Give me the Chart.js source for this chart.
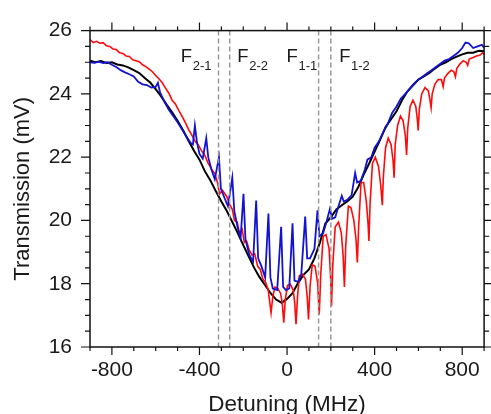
<!DOCTYPE html>
<html>
<head>
<meta charset="utf-8">
<script src="https://cdn.jsdelivr.net/npm/chart.js@4.4.0/dist/chart.umd.min.js"></script>
<style>
  html, body { margin: 0; padding: 0; background: #fff; }
  #wrap { width: 491px; height: 414px; }
</style>
</head>
<body>
<div id="wrap"><canvas id="chart"></canvas></div>
<script>
// Axis ticks
const xTickValues = [-800, -400, 0, 400, 800];
const yTickValues = [16, 18, 20, 22, 24, 26];

// Hyperfine transition markers (MHz) and their labels
const lineMarkers = [-313, -262, 144, 200];
const markerNames = ['F', 'F', 'F', 'F'];
const markerSubs = ['2-1', '2-2', '1-1', '1-2'];
const markerLabelX = [-485, -227, -2, 238];
const markerLabelY = 25.0;

// Black trace (no pump)
const blackX = [-900, -875, -850, -825, -800, -775, -750, -725, -700, -675, -650, -625, -600, -575, -550, -525, -500, -475, -450, -425, -400, -375, -350, -325, -300, -275, -250, -225, -200, -175, -150, -125, -100, -75, -50, -25, 0, 25, 50, 75, 100, 125, 150, 175, 200, 225, 250, 275, 300, 325, 350, 375, 400, 425, 450, 475, 500, 525, 550, 575, 600, 625, 650, 675, 700, 725, 750, 775, 800, 825, 850, 875, 900];
const blackY = [25.05, 25.0, 25.04, 24.98, 25.0, 24.93, 24.9, 24.84, 24.75, 24.66, 24.5, 24.36, 24.15, 23.92, 23.66, 23.42, 23.15, 22.85, 22.52, 22.2, 21.92, 21.55, 21.26, 20.92, 20.6, 20.3, 19.95, 19.6, 19.22, 18.86, 18.5, 18.2, 17.95, 17.7, 17.5, 17.4, 17.52, 17.7, 18.02, 18.28, 18.45, 18.8, 19.3, 19.9, 20.1, 20.35, 20.48, 20.6, 20.75, 21.05, 21.45, 21.8, 22.18, 22.55, 22.95, 23.2, 23.45, 23.8, 24.08, 24.28, 24.45, 24.55, 24.66, 24.8, 24.92, 25.0, 25.1, 25.18, 25.25, 25.3, 25.3, 25.36, 25.35];

// Blue trace (peaks)
const blueX = [-900, -880, -860, -840, -820, -800, -780, -760, -740, -720, -700, -680, -660, -640, -620, -600, -590, -580, -560, -540, -520, -500, -480, -460, -440, -430, -421, -412, -400, -385, -369, -360, -345, -330, -311, -302, -285, -270, -250, -241, -225, -212, -199, -190, -172, -155, -141, -132, -118, -100, -85, -76, -65, -45, -27, -18, -5, 10, 25, 34, 50, 65, 83, 92, 105, 125, 139, 148, 165, 180, 196, 205, 220, 235, 250, 259, 275, 295, 311, 320, 337, 355, 367, 385, 400, 420, 440, 460, 480, 500, 520, 540, 560, 580, 600, 620, 640, 660, 680, 700, 720, 740, 760, 780, 800, 815, 830, 850, 870, 890, 900];
const blueY = [25.0, 24.98, 25.02, 24.97, 25.0, 24.92, 24.85, 24.75, 24.68, 24.62, 24.55, 24.38, 24.3, 24.28, 24.2, 24.22, 24.35, 24.05, 23.75, 23.5, 23.3, 23.1, 22.88, 22.65, 22.45, 22.4, 23.0, 22.5, 22.1, 21.95, 22.6, 22.0, 21.6, 21.3, 22.0, 21.0, 20.7, 20.45, 21.35, 20.3, 19.75, 19.45, 20.84, 19.4, 18.9, 18.7, 20.63, 18.8, 18.57, 18.2, 20.22, 18.2, 17.85, 17.8, 19.8, 17.9, 17.8, 17.85, 19.91, 18.1, 18.06, 18.3, 20.12, 18.8, 18.8, 19.1, 20.32, 19.5, 19.6, 19.95, 20.37, 20.05, 20.1, 20.45, 20.78, 20.6, 20.65, 20.8, 21.5, 21.2, 21.25, 21.6, 21.92, 22.0, 22.3, 22.5, 22.8, 23.05, 23.4, 23.6, 23.85, 24.0, 24.15, 24.3, 24.45, 24.55, 24.65, 24.75, 24.85, 24.95, 25.05, 25.1, 25.2, 25.3, 25.45, 25.62, 25.6, 25.45, 25.5, 25.55, 25.45];

// Red trace (dips)
const redX = [-900, -885, -870, -855, -840, -825, -810, -795, -780, -765, -750, -735, -720, -705, -690, -675, -660, -645, -630, -615, -600, -585, -570, -555, -540, -525, -510, -495, -480, -465, -450, -435, -420, -405, -390, -375, -360, -345, -330, -318, -308, -295, -285, -275, -262, -250, -240, -228, -217, -205, -195, -185, -172, -160, -148, -134, -122, -111, -98, -86, -73, -65, -55, -42, -30, -22, -15, -8, 2, 15, 28, 35, 41, 48, 56, 70, 84, 92, 98, 105, 115, 128, 140, 147, 154, 165, 178, 192, 199, 203, 209, 220, 235, 248, 256, 262, 268, 280, 292, 305, 315, 321, 327, 338, 350, 362, 370, 374, 379, 390, 403, 418, 428, 435, 440, 450, 462, 475, 484, 489, 494, 505, 518, 530, 540, 546, 551, 562, 575, 588, 595, 599, 604, 615, 630, 645, 653, 658, 663, 675, 690, 705, 713, 719, 735, 750, 762, 769, 775, 790, 805, 818, 825, 832, 850, 865, 880, 893, 900];
const redY = [25.72, 25.62, 25.66, 25.6, 25.62, 25.52, 25.5, 25.42, 25.4, 25.3, 25.28, 25.2, 25.18, 25.08, 25.05, 25.02, 24.92, 24.86, 24.78, 24.7, 24.58, 24.48, 24.35, 24.18, 24.02, 23.8, 23.68, 23.48, 23.3, 23.1, 22.88, 22.7, 22.5, 22.38, 22.2, 22.05, 21.8, 21.62, 21.48, 21.2, 20.84, 20.95, 20.85, 20.75, 20.5, 20.35, 20.0, 19.95, 19.6, 19.72, 19.3, 19.35, 19.05, 18.9, 18.95, 18.55, 18.45, 18.15, 18.05, 17.8, 17.08, 17.6, 17.9, 17.85, 17.7, 17.4, 16.77, 17.5, 17.95, 17.98, 17.8, 17.4, 16.72, 17.6, 18.25, 18.3, 18.15, 17.6, 16.87, 17.9, 18.6, 18.55, 18.0, 17.03, 18.3, 19.5, 19.55, 19.1, 18.2, 17.29, 18.6, 19.8, 19.95, 19.6, 18.9, 17.9, 19.2, 20.45, 20.4, 20.0, 19.4, 18.67, 19.8, 21.2, 21.2, 20.6, 19.9, 19.35, 20.5, 21.8, 22.0, 21.7, 21.1, 20.48, 21.4, 22.3, 22.6, 22.4, 21.9, 21.35, 22.4, 23.0, 23.3, 23.15, 22.7, 22.07, 22.9, 23.6, 23.8, 23.6, 23.2, 22.84, 23.5, 24.0, 24.2, 24.1, 23.8, 23.56, 24.0, 24.3, 24.45, 24.45, 24.23, 24.5, 24.65, 24.75, 24.7, 24.54, 24.8, 24.95, 25.05, 25.0, 24.9, 25.1, 25.15, 25.2, 25.22, 25.3, 25.25];

const FONT = "'Liberation Sans', Arial, Helvetica, sans-serif";

function toPoints(xs, ys) {
  return xs.map((x, i) => ({ x: x, y: ys[i] }));
}

// Frame box with outward tick marks on all four sides
const frameTicks = {
  id: 'frameTicks',
  afterDraw(chart) {
    const { ctx, chartArea: a, scales: { x, y } } = chart;
    ctx.save();
    ctx.strokeStyle = '#111';
    ctx.lineWidth = 1.5;
    ctx.strokeRect(a.left, a.top, a.right - a.left, a.bottom - a.top);
    ctx.lineWidth = 1.2;
    ctx.beginPath();
    for (let v = -900; v <= 900; v += 100) {
      const px = x.getPixelForValue(v);
      const len = xTickValues.includes(v) ? 8 : 4;
      ctx.moveTo(px, a.bottom); ctx.lineTo(px, a.bottom + len);
      ctx.moveTo(px, a.top); ctx.lineTo(px, a.top - len);
    }
    for (let v = 16; v <= 26; v += 0.5) {
      const py = y.getPixelForValue(v);
      const len = yTickValues.includes(v) ? 9 : 5;
      ctx.moveTo(a.left, py); ctx.lineTo(a.left - len, py);
      ctx.moveTo(a.right, py); ctx.lineTo(a.right + len, py);
    }
    ctx.stroke();
    ctx.restore();
  }
};

// Dashed transition lines and F labels
const markers = {
  id: 'markers',
  afterDatasetsDraw(chart) {
    const { ctx, chartArea: a, scales: { x, y } } = chart;
    ctx.save();
    ctx.strokeStyle = '#999';
    ctx.lineWidth = 1.5;
    ctx.setLineDash([5, 3]);
    lineMarkers.forEach(v => {
      const px = x.getPixelForValue(v);
      ctx.beginPath();
      ctx.moveTo(px, a.top);
      ctx.lineTo(px, a.bottom);
      ctx.stroke();
    });
    ctx.setLineDash([]);
    ctx.fillStyle = '#1a1a1a';
    ctx.textBaseline = 'alphabetic';
    ctx.textAlign = 'left';
    markerNames.forEach((name, i) => {
      const px = x.getPixelForValue(markerLabelX[i]);
      const py = y.getPixelForValue(markerLabelY);
      ctx.font = '18.5px ' + FONT;
      ctx.fillText(name, px, py);
      const w = ctx.measureText(name).width;
      ctx.font = '13px ' + FONT;
      ctx.fillText(markerSubs[i], px + w + 0.5, py + 7.5);
    });
    ctx.restore();
  }
};

new Chart(document.getElementById('chart'), {
  type: 'line',
  data: {
    datasets: [
      { label: 'blue', data: toPoints(blueX, blueY), borderColor: '#1212d0', borderWidth: 1.8, pointRadius: 0, tension: 0 },
      { label: 'red', data: toPoints(redX, redY), borderColor: '#ff0a0a', borderWidth: 1.6, pointRadius: 0, tension: 0 },
      { label: 'black', data: toPoints(blackX, blackY), borderColor: '#000000', borderWidth: 2, pointRadius: 0, tension: 0 }
    ]
  },
  options: {
    responsive: true,
    maintainAspectRatio: false,
    animation: false,
    devicePixelRatio: 1,
    layout: { padding: { top: 23, right: 5, left: 0, bottom: 0 } },
    plugins: { legend: { display: false }, tooltip: { enabled: false } },
    scales: {
      x: {
        type: 'linear',
        min: -900,
        max: 900,
        afterBuildTicks: s => { s.ticks = xTickValues.map(v => ({ value: v })); },
        afterFit: s => { s.height = 67; },
        grid: { display: false, drawTicks: false },
        border: { display: false },
        ticks: { color: '#1a1a1a', padding: 11, maxRotation: 0, autoSkip: false, font: { family: FONT, size: 21 } },
        title: { display: true, text: 'Detuning (MHz)', color: '#1a1a1a', padding: 0, font: { family: FONT, size: 22.5, lineHeight: 0.8 } }
      },
      y: {
        type: 'linear',
        min: 16,
        max: 26,
        afterBuildTicks: s => { s.ticks = yTickValues.map(v => ({ value: v })); },
        afterFit: s => { s.width = 90; },
        grid: { display: false, drawTicks: false },
        border: { display: false },
        ticks: { color: '#1a1a1a', padding: 18, font: { family: FONT, size: 21 } },
        title: { display: true, text: 'Transmission (mV)', color: '#1a1a1a', padding: { top: 10, bottom: 0 }, font: { family: FONT, size: 22 } }
      }
    }
  },
  plugins: [frameTicks, markers]
});
</script>
</body>
</html>
